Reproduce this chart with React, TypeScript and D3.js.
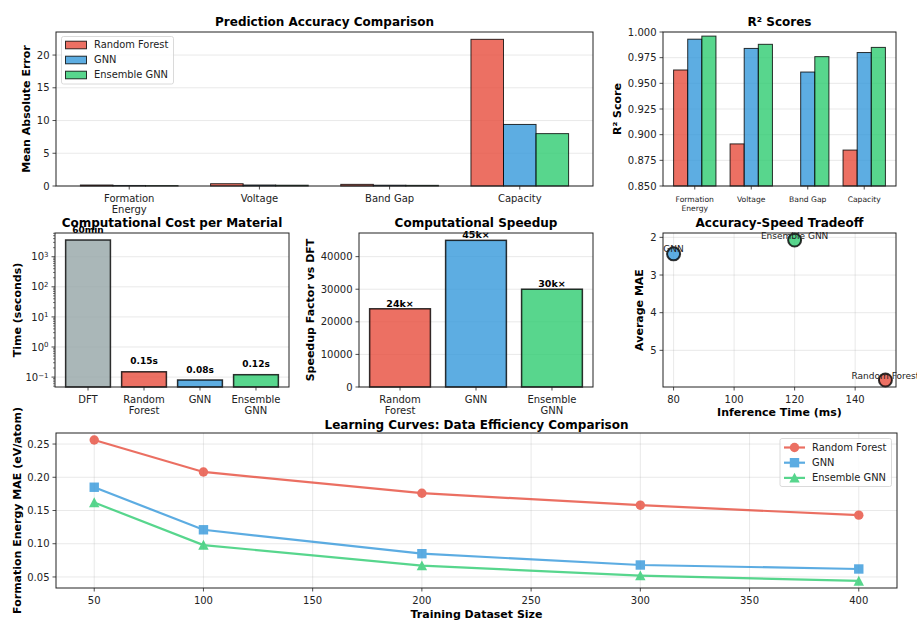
import { useRef, useEffect } from "react";
import * as d3 from "d3";

// ---- data ----
const models = ["Random Forest", "GNN", "Ensemble GNN"];
const modelColors = ["#e74c3c", "#3498db", "#2ecc71"];

const properties = ["Formation\nEnergy", "Voltage", "Band Gap", "Capacity"];
const maeRF = [0.15, 0.35, 0.25, 22.4];
const maeGNN = [0.08, 0.15, 0.12, 9.4];
const maeEns = [0.06, 0.12, 0.1, 8.0];

const r2RF = [0.963, 0.891, 0.82, 0.885];
const r2GNN = [0.993, 0.984, 0.961, 0.98];
const r2Ens = [0.996, 0.988, 0.976, 0.985];

const costMethods = ["DFT", "Random\nForest", "GNN", "Ensemble\nGNN"];
const costSeconds = [3600, 0.15, 0.08, 0.12];
const costLabels = ["60min", "0.15s", "0.08s", "0.12s"];
const costColors = ["#95a5a6", "#e74c3c", "#3498db", "#2ecc71"];

const speedupMethods = ["Random\nForest", "GNN", "Ensemble\nGNN"];
const speedup = [24000, 45000, 30000];
const speedupLabels = ["24k×", "45k×", "30k×"];

const inferenceMs = [150, 80, 120];

const trainSizes = [50, 100, 200, 300, 400];
const lcRF = [0.256, 0.208, 0.176, 0.158, 0.143];
const lcGNN = [0.185, 0.121, 0.085, 0.068, 0.062];
const lcEns = [0.162, 0.098, 0.067, 0.052, 0.044];

const W = 917;
const H = 620;
const FONT = "'DejaVu Sans', sans-serif";
const AX = "#222";
const TXT = "#222";
const EDGE = "rgba(0,0,0,0.8)";

type Box = { l: number; r: number; t: number; b: number };

// simple helpers, matplotlib-ish look
const frame = (g: any, box: Box) =>
  g.append("rect")
    .attr("x", box.l).attr("y", box.t)
    .attr("width", box.r - box.l).attr("height", box.b - box.t)
    .attr("fill", "none").attr("stroke", AX).attr("stroke-width", 1);

const gridY = (g: any, box: Box, y: any, ticks: number[]) =>
  ticks.forEach((v) => {
    g.append("line")
      .attr("x1", box.l).attr("x2", box.r).attr("y1", y(v)).attr("y2", y(v))
      .attr("stroke", "#b0b0b0").attr("stroke-opacity", 0.35).attr("stroke-width", 0.8);
  });

const gridX = (g: any, box: Box, x: any, ticks: number[]) =>
  ticks.forEach((v) => {
    g.append("line")
      .attr("x1", x(v)).attr("x2", x(v)).attr("y1", box.t).attr("y2", box.b)
      .attr("stroke", "#b0b0b0").attr("stroke-opacity", 0.35).attr("stroke-width", 0.8);
  });

const yAxis = (g: any, box: Box, y: any, ticks: number[], fmt: (v: number) => string) =>
  ticks.forEach((v) => {
    g.append("line")
      .attr("x1", box.l - 3.5).attr("x2", box.l).attr("y1", y(v)).attr("y2", y(v))
      .attr("stroke", AX).attr("stroke-width", 0.8);
    g.append("text")
      .attr("x", box.l - 6.5).attr("y", y(v)).attr("dy", "0.36em")
      .attr("text-anchor", "end").attr("font-size", 10).attr("fill", TXT)
      .text(fmt(v));
  });

const xAxis = (g: any, box: Box, x: any, ticks: number[], labels: string[], size = 10, lh = 11.5) =>
  ticks.forEach((v, i) => {
    g.append("line")
      .attr("x1", x(v)).attr("x2", x(v)).attr("y1", box.b).attr("y2", box.b + 3.5)
      .attr("stroke", AX).attr("stroke-width", 0.8);
    const t = g.append("text")
      .attr("x", x(v)).attr("y", box.b + 15.5)
      .attr("text-anchor", "middle").attr("font-size", size).attr("fill", TXT);
    labels[i].split("\n").forEach((line, j) =>
      t.append("tspan").attr("x", x(v)).attr("dy", j === 0 ? 0 : lh).text(line));
  });

const title = (g: any, box: Box, s: string, y: number) =>
  g.append("text")
    .attr("x", (box.l + box.r) / 2).attr("y", y)
    .attr("text-anchor", "middle").attr("font-size", 12).attr("font-weight", "bold")
    .text(s);

const yLabel = (g: any, cx: number, box: Box, s: string) =>
  g.append("text")
    .attr("transform", `translate(${cx},${(box.t + box.b) / 2}) rotate(-90)`)
    .attr("dy", "0.35em").attr("text-anchor", "middle")
    .attr("font-size", 11).attr("font-weight", "bold").attr("fill", "#000")
    .text(s);

const xLabel = (g: any, box: Box, y: number, s: string) =>
  g.append("text")
    .attr("x", (box.l + box.r) / 2).attr("y", y)
    .attr("text-anchor", "middle").attr("font-size", 11).attr("font-weight", "bold")
    .text(s);

const pad = (lo: number, hi: number, m = 0.05) => [lo - (hi - lo) * m, hi + (hi - lo) * m];

export default function App() {
  const svgRef = useRef<SVGSVGElement>(null);

  useEffect(() => {
    const svg = d3.select(svgRef.current);
    svg.selectAll("*").remove();
    svg.append("rect").attr("width", W).attr("height", H).attr("fill", "white");

    // ---------- 1. Prediction Accuracy Comparison ----------
    {
      const box = { l: 56, r: 593, t: 32, b: 186 };
      const g = svg.append("g");
      const bw = 0.25;
      const series = [maeRF, maeGNN, maeEns];
      const x = d3.scaleLinear().domain(pad(-1.5 * bw, 3 + 1.5 * bw)).range([box.l, box.r]);
      const ymax = d3.max(series.flat())! * 1.05;
      const y = d3.scaleLinear().domain([0, ymax]).range([box.b, box.t]);
      const yt = [0, 5, 10, 15, 20];
      gridY(g, box, y, yt);
      series.forEach((vals, s) => {
        g.selectAll(null).data(vals).join("rect")
          .attr("x", (_d: number, i: number) => x(i + (s - 1) * bw - bw / 2))
          .attr("width", x(bw) - x(0))
          .attr("y", (d: number) => y(d))
          .attr("height", (d: number) => box.b - y(d))
          .attr("fill", modelColors[s]).attr("fill-opacity", 0.8)
          .attr("stroke", EDGE).attr("stroke-width", 1);
      });
      frame(g, box);
      yAxis(g, box, y, yt, (v) => String(v));
      xAxis(g, box, x, [0, 1, 2, 3], properties);
      title(g, box, "Prediction Accuracy Comparison", 25.5);
      yLabel(g, 26, box, "Mean Absolute Error");

      // legend
      const lg = g.append("g");
      lg.append("rect").attr("x", box.l + 5.5).attr("y", box.t + 4.5).attr("width", 112).attr("height", 47.5)
        .attr("rx", 2).attr("fill", "white").attr("fill-opacity", 0.8).attr("stroke", "#d0d0d0").attr("stroke-width", 0.8);
      models.forEach((m, i) => {
        const cy = box.t + 13 + i * 15;
        lg.append("rect").attr("x", box.l + 9.5).attr("y", cy - 3.8).attr("width", 21).attr("height", 7.6)
          .attr("fill", modelColors[i]).attr("fill-opacity", 0.8).attr("stroke", EDGE).attr("stroke-width", 1);
        lg.append("text").attr("x", box.l + 38).attr("y", cy).attr("dy", "0.35em")
          .attr("font-size", 9.9).attr("fill", TXT).text(m);
      });
    }

    // ---------- 2. R² Scores ----------
    {
      const box = { l: 663, r: 896, t: 32, b: 186 };
      const g = svg.append("g");
      const bw = 0.25;
      const series = [r2RF, r2GNN, r2Ens];
      const x = d3.scaleLinear().domain(pad(-1.5 * bw, 3 + 1.5 * bw)).range([box.l, box.r]);
      const y = d3.scaleLinear().domain([0.85, 1.0]).range([box.b, box.t]);
      const yt = d3.range(0, 7).map((i) => 0.85 + i * 0.025);
      gridY(g, box, y, yt);
      series.forEach((vals, s) => {
        // bars below the 0.85 floor are clipped away, as in the reference
        g.selectAll(null).data(vals.map((v, i) => ({ v, i })).filter((d) => d.v > 0.85)).join("rect")
          .attr("x", (d: any) => x(d.i + (s - 1) * bw - bw / 2))
          .attr("width", x(bw) - x(0))
          .attr("y", (d: any) => y(d.v))
          .attr("height", (d: any) => box.b - y(d.v))
          .attr("fill", modelColors[s]).attr("fill-opacity", 0.8)
          .attr("stroke", EDGE).attr("stroke-width", 1);
      });
      frame(g, box);
      yAxis(g, box, y, yt, d3.format(".3f"));
      xAxis(g, box, x, [0, 1, 2, 3], properties, 7.6, 9.2);
      title(g, box, "R² Scores", 25.5);
      yLabel(g, 617, box, "R² Score");
    }

    // ---------- 3. Computational Cost per Material (log) ----------
    {
      const box = { l: 55, r: 289, t: 233, b: 387 };
      const g = svg.append("g");
      const x = d3.scaleLinear().domain(pad(-0.4, 3.4)).range([box.l, box.r]);
      const [lo, hi] = pad(Math.log10(d3.min(costSeconds)!), Math.log10(d3.max(costSeconds)!));
      const y = d3.scaleLog().domain([10 ** lo, 10 ** hi]).range([box.b, box.t]);
      const decades = [-1, 0, 1, 2, 3];
      gridY(g, box, y, decades.map((d) => 10 ** d));
      g.selectAll(null).data(costSeconds).join("rect")
        .attr("x", (_d: number, i: number) => x(i - 0.4))
        .attr("width", x(0.8) - x(0))
        .attr("y", (d: number) => y(d))
        .attr("height", (d: number) => box.b - y(d))
        .attr("fill", (_d: number, i: number) => costColors[i]).attr("fill-opacity", 0.8)
        .attr("stroke", EDGE).attr("stroke-width", 1.5);
      g.selectAll(null).data(costSeconds).join("text")
        .attr("x", (_d: number, i: number) => x(i))
        .attr("y", (d: number) => y(d * 1.5) - 2)
        .attr("text-anchor", "middle").attr("font-size", 9).attr("font-weight", "bold")
        .text((_d: number, i: number) => costLabels[i]);
      frame(g, box);
      // minor log ticks
      d3.range(-2, 4).forEach((d) => {
        d3.range(2, 10).forEach((k) => {
          const v = k * 10 ** d;
          if (v < 10 ** lo || v > 10 ** hi) return;
          g.append("line").attr("x1", box.l - 2).attr("x2", box.l).attr("y1", y(v)).attr("y2", y(v))
            .attr("stroke", AX).attr("stroke-width", 0.6);
        });
      });
      decades.forEach((d) => {
        const py = y(10 ** d);
        g.append("line").attr("x1", box.l - 3.5).attr("x2", box.l).attr("y1", py).attr("y2", py)
          .attr("stroke", AX).attr("stroke-width", 0.8);
        const t = g.append("text").attr("x", box.l - 6.5).attr("y", py).attr("dy", "0.36em")
          .attr("text-anchor", "end").attr("font-size", 10).attr("fill", TXT);
        t.append("tspan").text("10");
        t.append("tspan").attr("dy", "-0.45em").attr("font-size", 7).text(d < 0 ? "−" + -d : String(d));
      });
      xAxis(g, box, x, [0, 1, 2, 3], costMethods);
      title(g, box, "Computational Cost per Material", 226.5);
      yLabel(g, 17, box, "Time (seconds)");
    }

    // ---------- 4. Computational Speedup ----------
    {
      const box = { l: 359, r: 593, t: 233, b: 387 };
      const g = svg.append("g");
      const x = d3.scaleLinear().domain(pad(-0.4, 2.4)).range([box.l, box.r]);
      const y = d3.scaleLinear().domain([0, d3.max(speedup)! * 1.05]).range([box.b, box.t]);
      const yt = [0, 10000, 20000, 30000, 40000];
      gridY(g, box, y, yt);
      g.selectAll(null).data(speedup).join("rect")
        .attr("x", (_d: number, i: number) => x(i - 0.4))
        .attr("width", x(0.8) - x(0))
        .attr("y", (d: number) => y(d))
        .attr("height", (d: number) => box.b - y(d))
        .attr("fill", (_d: number, i: number) => modelColors[i]).attr("fill-opacity", 0.8)
        .attr("stroke", EDGE).attr("stroke-width", 1.5);
      g.selectAll(null).data(speedup).join("text")
        .attr("x", (_d: number, i: number) => x(i))
        .attr("y", (d: number) => y(d) - 2)
        .attr("text-anchor", "middle").attr("font-size", 9.5).attr("font-weight", "bold")
        .text((_d: number, i: number) => speedupLabels[i]);
      frame(g, box);
      yAxis(g, box, y, yt, (v) => String(v));
      xAxis(g, box, x, [0, 1, 2], speedupMethods);
      title(g, box, "Computational Speedup", 226.5);
      yLabel(g, 310, box, "Speedup Factor vs DFT");
    }

    // ---------- 5. Accuracy-Speed Tradeoff ----------
    {
      const box = { l: 663, r: 896, t: 233, b: 387 };
      const g = svg.append("g");
      const avgMae = [maeRF, maeGNN, maeEns].map((a) => d3.mean(a)!);
      const x = d3.scaleLinear().domain(pad(d3.min(inferenceMs)!, d3.max(inferenceMs)!)).range([box.l, box.r]);
      const y = d3.scaleLinear().domain(pad(d3.min(avgMae)!, d3.max(avgMae)!)).range([box.t, box.b]);
      const xt = [80, 100, 120, 140];
      const yt = [2, 3, 4, 5];
      gridX(g, box, x, xt);
      gridY(g, box, y, yt);
      g.selectAll(null).data(inferenceMs).join("circle")
        .attr("cx", (d: number) => x(d))
        .attr("cy", (_d: number, i: number) => y(avgMae[i]))
        .attr("r", 6.5)
        .attr("fill", (_d: number, i: number) => modelColors[i]).attr("fill-opacity", 0.8)
        .attr("stroke", EDGE).attr("stroke-width", 2);
      g.selectAll(null).data(inferenceMs).join("text")
        .attr("x", (d: number) => x(d))
        .attr("y", (_d: number, i: number) => y(avgMae[i]) - 1.5)
        .attr("text-anchor", "middle").attr("font-size", 9).attr("fill", TXT)
        .text((_d: number, i: number) => models[i]);
      frame(g, box);
      yAxis(g, box, y, yt, (v) => String(v));
      xAxis(g, box, x, xt, xt.map(String));
      title(g, box, "Accuracy-Speed Tradeoff", 226.5);
      yLabel(g, 639, box, "Average MAE");
      xLabel(g, box, 416, "Inference Time (ms)");
    }

    // ---------- 6. Learning Curves ----------
    {
      const box = { l: 56, r: 897, t: 433, b: 588 };
      const g = svg.append("g");
      const series = [lcRF, lcGNN, lcEns];
      const all = series.flat();
      const x = d3.scaleLinear().domain(pad(d3.min(trainSizes)!, d3.max(trainSizes)!)).range([box.l, box.r]);
      const y = d3.scaleLinear().domain(pad(d3.min(all)!, d3.max(all)!)).range([box.b, box.t]);
      const xt = [50, 100, 150, 200, 250, 300, 350, 400];
      const yt = [0.05, 0.1, 0.15, 0.2, 0.25];
      gridX(g, box, x, xt);
      gridY(g, box, y, yt);

      const marker = (sel: any, shape: number, cx: number, cy: number, color: string) => {
        const h = 4.7;
        if (shape === 0) sel.append("circle").attr("cx", cx).attr("cy", cy).attr("r", h).attr("fill", color);
        else if (shape === 1) sel.append("rect").attr("x", cx - h).attr("y", cy - h).attr("width", 2 * h).attr("height", 2 * h).attr("fill", color);
        else sel.append("path").attr("d", `M${cx},${cy - h - 0.5}L${cx + h + 0.5},${cy + h}L${cx - h - 0.5},${cy + h}Z`).attr("fill", color);
      };

      const line = d3.line<number>().x((_d, i) => x(trainSizes[i])).y((d) => y(d));
      series.forEach((vals, s) => {
        const sg = g.append("g").attr("opacity", 0.8);
        sg.append("path").attr("d", line(vals)).attr("fill", "none")
          .attr("stroke", modelColors[s]).attr("stroke-width", 2.2);
        vals.forEach((v, i) => marker(sg, s, x(trainSizes[i]), y(v), modelColors[s]));
      });
      frame(g, box);
      yAxis(g, box, y, yt, d3.format(".2f"));
      xAxis(g, box, x, xt, xt.map(String));
      title(g, box, "Learning Curves: Data Efficiency Comparison", 428.5);
      yLabel(g, 17, box, "Formation Energy MAE (eV/atom)");
      xLabel(g, box, 618, "Training Dataset Size");

      // legend
      const lg = g.append("g");
      lg.append("rect").attr("x", 780).attr("y", 438.5).attr("width", 111.5).attr("height", 48)
        .attr("rx", 2).attr("fill", "white").attr("fill-opacity", 0.8).attr("stroke", "#d0d0d0").attr("stroke-width", 0.8);
      models.forEach((m, i) => {
        const cy = 447.5 + i * 15.2;
        const eg = lg.append("g").attr("opacity", 0.8);
        eg.append("line").attr("x1", 784).attr("x2", 805).attr("y1", cy).attr("y2", cy)
          .attr("stroke", modelColors[i]).attr("stroke-width", 2.2);
        marker(eg, i, 794.5, cy, modelColors[i]);
        lg.append("text").attr("x", 812).attr("y", cy).attr("dy", "0.35em")
          .attr("font-size", 9.9).attr("fill", TXT).text(m);
      });
    }
  }, []);

  return (
    <svg
      ref={svgRef}
      width={W}
      height={H}
      style={{ position: "absolute", left: 0, top: 0, fontFamily: FONT }}
    ></svg>
  );
}
